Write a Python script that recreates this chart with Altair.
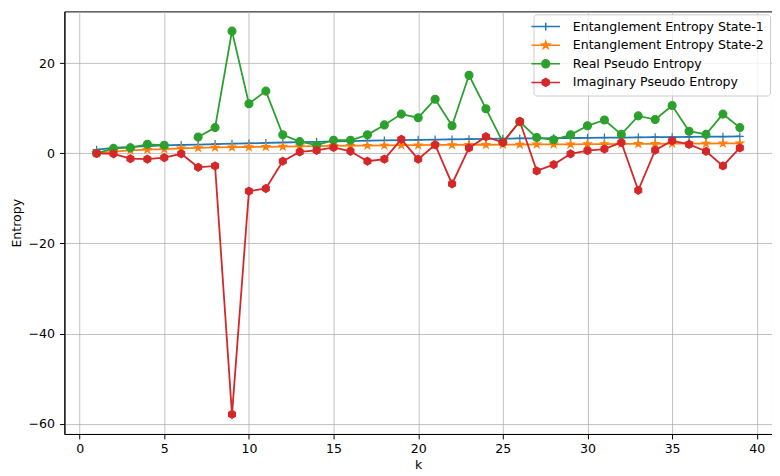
import altair as alt
import pandas as pd

k = list(range(1, 40))

state1 = [0.8, 1.2, 1.45, 1.6, 1.75, 1.85, 1.95, 2.05, 2.15, 2.2,
          2.3, 2.4, 2.5, 2.55, 2.65, 2.7, 2.8, 2.85, 2.95, 3.0,
          3.05, 3.1, 3.15, 3.2, 3.25, 3.3, 3.3, 3.35, 3.4, 3.45,
          3.5, 3.5, 3.55, 3.6, 3.6, 3.65, 3.7, 3.7, 3.75]
state2 = [0.05, 0.4, 0.65, 0.8, 0.95, 1.1, 1.2, 1.3, 1.35, 1.4,
          1.45, 1.5, 1.55, 1.6, 1.65, 1.7, 1.7, 1.75, 1.8, 1.8,
          1.85, 1.85, 1.9, 1.9, 1.95, 1.95, 2.0, 2.0, 2.0, 2.05,
          2.05, 2.1, 2.1, 2.1, 2.15, 2.15, 2.15, 2.2, 2.2]
real_pe = [0.0, 1.1, 1.25, 2.0, 1.8, None, 3.6, 5.7, 27.1, 11.0,
           13.8, 4.1, 2.6, 1.8, 2.9, 2.9, 4.1, 6.3, 8.7, 7.9,
           12.0, 6.1, 17.3, 9.9, 2.5, 7.0, 3.5, 3.0, 4.1, 6.1,
           7.4, 4.2, 8.3, 7.5, 10.6, 4.9, 4.2, 8.7, 5.7]
imag_pe = [0.0, -0.1, -1.2, -1.3, -0.95, -0.1, -3.1, -2.8, -57.9, -8.4,
           -7.8, -1.75, 0.3, 0.65, 1.3, 0.45, -1.75, -1.3, 3.1, -1.3,
           1.9, -6.8, 1.2, 3.7, 2.4, 7.1, -3.9, -2.5, -0.1, 0.6,
           0.95, 2.4, -8.2, 0.7, 2.8, 2.0, 0.45, -2.8, 1.2]

names = ["Entanglement Entropy State-1", "Entanglement Entropy State-2",
         "Real Pseudo Entropy", "Imaginary Pseudo Entropy"]
colors = ["#1f77b4", "#ff7f0e", "#2ca02c", "#d62728"]

x_ticks = [0, 5, 10, 15, 20, 25, 30, 35, 40]
y_ticks = [-60, -40, -20, 0, 20]

PLUS = "M-1,0L1,0M0,-1L0,1"
STAR = ("M0,-1L0.225,-0.309L0.951,-0.309L0.363,0.118L0.588,0.809L0,0.382"
        "L-0.588,0.809L-0.363,0.118L-0.951,-0.309L-0.225,-0.309Z")
CIRCLE = "M-1,0A1,1 0 1,0 1,0A1,1 0 1,0 -1,0Z"
HEX = "M0,-1L0.866,-0.5L0.866,0.5L0,1L-0.866,0.5L-0.866,-0.5Z"
markers = [PLUS, STAR, CIRCLE, HEX]
sizes = [64, 60, 64, 64]
LINE = "M-3.6,0L3.6,0"
legend_paths = [LINE + m for m in markers]

rows = []
for name, vals in zip(names, [state1, state2, real_pe, imag_pe]):
    for kk, v in zip(k, vals):
        rows.append({"k": kk, "value": v, "series": name})
df = pd.DataFrame(rows)

FONT = "DejaVu Sans"
FS = 12.7

x_enc = alt.X("k:Q", scale=alt.Scale(domain=[-0.9, 40.9], nice=False, zero=False),
              axis=alt.Axis(values=x_ticks, title="k", format="d"))
y_enc = alt.Y("value:Q", scale=alt.Scale(domain=[-62.26, 31.48], nice=False, zero=False),
              axis=alt.Axis(values=y_ticks, title="Entropy", format="d"))

base = alt.Chart(df)
layers = []
for name, c, m, s in zip(names, colors, markers, sizes):
    sub = base.transform_filter(alt.datum.series == name)
    layers.append(sub.mark_line(color=c, strokeWidth=1.8,
                                invalid="break-paths-show-domains").encode(x=x_enc, y=y_enc))
    layers.append(sub.mark_point(shape=m, filled=True, fill=c, stroke=c, strokeWidth=1.2,
                                 size=s, opacity=1).encode(x=x_enc, y=y_enc))

leg = alt.Legend(title=None, orient="none", legendX=474, legendY=3,
                 fillColor="rgba(255,255,255,0.8)", strokeColor="#cccccc",
                 cornerRadius=3, padding=6, rowPadding=3.8, labelOffset=21,
                 labelFont=FONT, labelFontSize=FS, labelColor="#000000", labelLimit=400,
                 symbolSize=64, symbolStrokeWidth=1.5, symbolOpacity=1)

legend_layer = base.transform_filter("datum.k < 0").mark_point(
    filled=True, size=64, opacity=1, strokeWidth=1.5
).encode(
    x=x_enc, y=y_enc,
    color=alt.Color("series:N", scale=alt.Scale(domain=names, range=colors), legend=leg),
    stroke=alt.Stroke("series:N", scale=alt.Scale(domain=names, range=colors), legend=leg),
    shape=alt.Shape("series:N", scale=alt.Scale(domain=names, range=legend_paths), legend=leg),
)

chart = alt.layer(*layers, legend_layer).properties(
    width=715, height=427,
    background="white",
    autosize=alt.AutoSizeParams(type="none"),
    padding={"left": 57, "top": 1, "right": 0, "bottom": 39},
).configure_view(
    stroke="#000000", strokeWidth=1
).configure_axis(
    labelFont=FONT, labelFontSize=FS, labelColor="#000000",
    titleFont=FONT, titleFontSize=FS, titleFontWeight="normal", titleColor="#000000",
    domainColor="#000000", domainWidth=1, tickColor="#000000", tickWidth=1,
    tickSize=5, labelPadding=4, gridColor="#b0b0b0", gridWidth=0.8
).configure_axisY(
    titlePadding=5, labelPadding=5
).configure_axisX(
    titlePadding=3
)

chart.save("out.html", embed_options={"renderer": "svg", "actions": False})
